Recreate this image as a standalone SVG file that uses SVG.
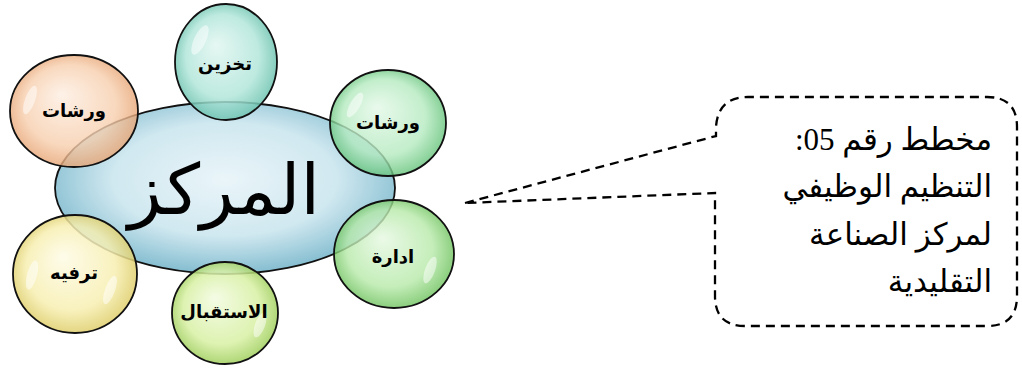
<svg xmlns="http://www.w3.org/2000/svg" width="1022" height="369" viewBox="0 0 1022 369">
<style>
.bub{stroke:#111;stroke-width:1.8}
.lbl{font-family:"DejaVu Sans",sans-serif;font-weight:bold;font-size:18px;fill:#000;text-anchor:middle}
.gloss{fill:#fff;opacity:0.5}
.call{fill:none;stroke:#000;stroke-width:2.3;stroke-dasharray:9 6}
.ctext{font-family:"Liberation Serif","DejaVu Sans",serif;font-size:31px;fill:#000}
</style>
<defs>
<radialGradient id="gCenter" cx="50%" cy="45%" r="55%">
<stop offset="0" stop-color="#eaf5f9"/><stop offset="0.6" stop-color="#d0e8f0"/><stop offset="1" stop-color="#84bdd0"/>
</radialGradient>
<radialGradient id="gTeal" cx="50%" cy="50%" r="55%" fx="40%" fy="35%">
<stop offset="0" stop-color="#e2f6f1"/><stop offset="0.65" stop-color="#b2e6da"/><stop offset="1" stop-color="#5dbba6"/>
</radialGradient>
<radialGradient id="gOrange" cx="50%" cy="50%" r="55%" fx="40%" fy="35%">
<stop offset="0" stop-color="#fdeee2"/><stop offset="0.65" stop-color="#f7cfae"/><stop offset="1" stop-color="#e39a66"/>
</radialGradient>
<radialGradient id="gGreen1" cx="50%" cy="50%" r="55%" fx="40%" fy="35%">
<stop offset="0" stop-color="#e4f8e8"/><stop offset="0.65" stop-color="#b4eabf"/><stop offset="1" stop-color="#52b96a"/>
</radialGradient>
<radialGradient id="gGreen2" cx="50%" cy="50%" r="55%" fx="40%" fy="35%">
<stop offset="0" stop-color="#e6f8e2"/><stop offset="0.65" stop-color="#b6e9a8"/><stop offset="1" stop-color="#5bb84a"/>
</radialGradient>
<radialGradient id="gLime" cx="50%" cy="50%" r="55%" fx="40%" fy="35%">
<stop offset="0" stop-color="#f2fbe0"/><stop offset="0.65" stop-color="#d8f0a4"/><stop offset="1" stop-color="#92c74c"/>
</radialGradient>
<radialGradient id="gYellow" cx="50%" cy="50%" r="55%" fx="40%" fy="35%">
<stop offset="0" stop-color="#fefbe6"/><stop offset="0.65" stop-color="#f7efb2"/><stop offset="1" stop-color="#d9c65a"/>
</radialGradient>
</defs>

<g id="center">
<ellipse class="bub" cx="225" cy="188" rx="170" ry="86" fill="url(#gCenter)"/>
<text x="224" y="214" font-family="&quot;DejaVu Sans&quot;,sans-serif" font-size="70" text-anchor="middle" fill="#000">المركز</text>
</g>

<g id="node-storage">
<ellipse class="bub" cx="226" cy="62" rx="51" ry="58" fill="url(#gTeal)" fill-opacity="0.85"/>
<ellipse class="gloss" cx="200" cy="40" rx="6" ry="16" transform="rotate(25 200 40)"/>
<text class="lbl" x="225" y="70">تخزين</text>
</g>

<g id="node-workshops-left">
<ellipse class="bub" cx="74" cy="111" rx="64" ry="56" fill="url(#gOrange)" fill-opacity="0.8"/>
<ellipse class="gloss" cx="30" cy="100" rx="5" ry="15" transform="rotate(20 30 100)"/>
<text class="lbl" x="74" y="117">ورشات</text>
</g>

<g id="node-workshops-right">
<ellipse class="bub" cx="388" cy="123" rx="58" ry="53" fill="url(#gGreen1)" fill-opacity="0.8"/>
<ellipse class="gloss" cx="355" cy="105" rx="5" ry="14" transform="rotate(30 355 105)"/>
<text class="lbl" x="388" y="129">ورشات</text>
</g>

<g id="node-admin">
<ellipse class="bub" cx="394" cy="254" rx="60" ry="54" fill="url(#gGreen2)" fill-opacity="0.8"/>
<ellipse class="gloss" cx="430" cy="270" rx="5" ry="14" transform="rotate(20 430 270)"/>
<text class="lbl" x="393" y="263">ادارة</text>
</g>

<g id="node-reception">
<ellipse class="bub" cx="225" cy="313" rx="53" ry="51" fill="url(#gLime)" fill-opacity="0.85"/>
<ellipse class="gloss" cx="260" cy="325" rx="5" ry="13" transform="rotate(20 260 325)"/>
<text class="lbl" x="224" y="318">الاستقبال</text>
</g>

<g id="node-leisure">
<ellipse class="bub" cx="75" cy="274" rx="62" ry="59" fill="url(#gYellow)" fill-opacity="0.85"/>
<ellipse class="gloss" cx="32" cy="275" rx="5" ry="15" transform="rotate(15 32 275)"/>
<ellipse class="gloss" cx="110" cy="290" rx="5" ry="15" transform="rotate(20 110 290)"/>
<text class="lbl" x="74" y="279">ترفيه</text>
</g>

<g id="connectors">
<path class="call" d="M465,203 L716,136 L716,127 Q718,97 748,97 L987,97 Q1017,97 1017,127 L1017,296 Q1017,326 987,326 L745,326 Q715,326 715,296 L715,193 Z"/>
</g>

<g id="callout-text">
<text class="ctext" x="992" y="150" direction="rtl" text-anchor="start">مخطط  رقم 05:</text>
<text class="ctext" x="992" y="197" direction="rtl" text-anchor="start">التنظيم الوظيفي</text>
<text class="ctext" x="992" y="245" direction="rtl" text-anchor="start">لمركز الصناعة</text>
<text class="ctext" x="992" y="292" direction="rtl" text-anchor="start">التقليدية</text>
</g>
</svg>
